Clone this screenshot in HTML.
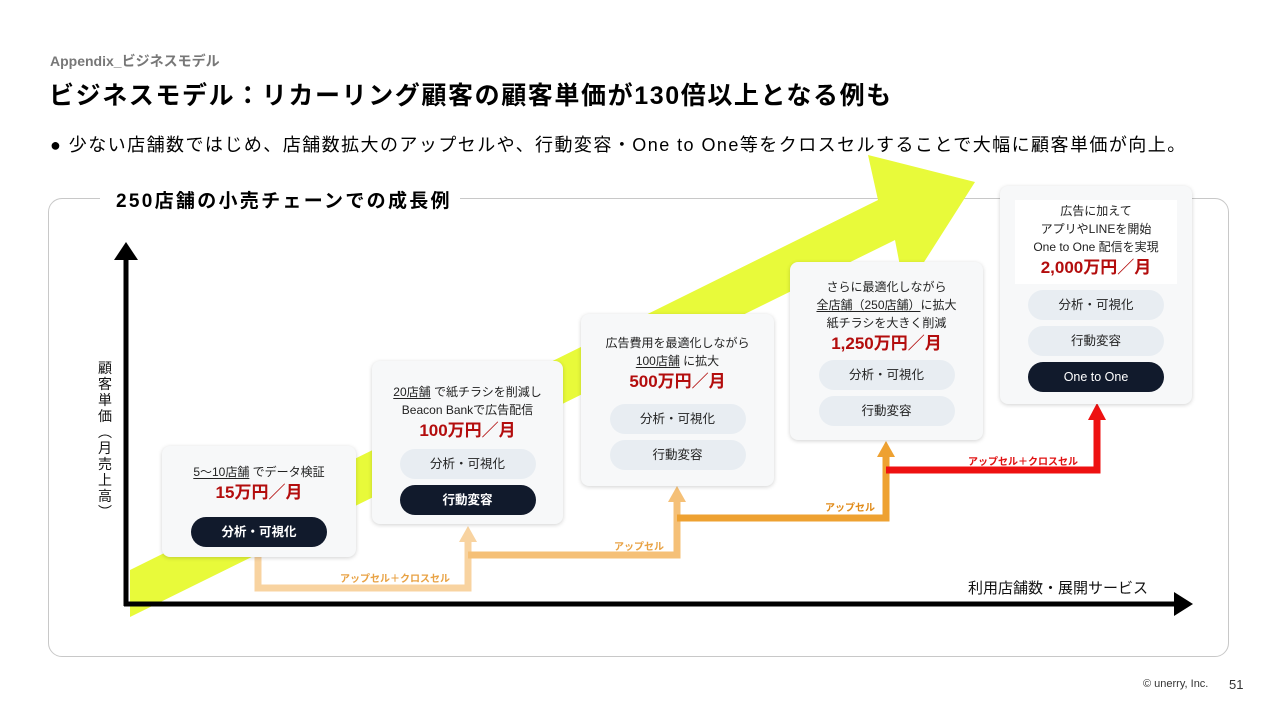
<!DOCTYPE html>
<html><head><meta charset="utf-8"><style>
*{margin:0;padding:0;box-sizing:border-box}
body{width:1280px;height:720px;background:#fff;position:relative;overflow:hidden;font-family:"Liberation Sans","Noto Sans CJK JP",sans-serif;color:#111}
.a{position:absolute;white-space:nowrap}
.card{position:absolute;background:#f7f8f9;border-radius:8px;box-shadow:0 1px 4px rgba(0,0,0,.18);text-align:center;font-size:12px;line-height:18px;color:#222}
.price{color:#b30d0d;font-weight:bold;font-size:17px;line-height:24px}
.pill{width:136px;height:30px;border-radius:15px;margin:6px auto 0;line-height:30px;font-size:12.5px;background:#e8edf2;color:#222}
.dark{background:#111a2c;color:#fff;font-weight:bold}
u{text-decoration:underline;text-underline-offset:2px}
.lbl{position:absolute;font-size:10px;font-weight:bold;white-space:nowrap}
</style></head><body>
<div class="a" style="left:50px;top:51px;font-size:14px;color:#777;font-weight:bold">Appendix_ビジネスモデル</div>
<div class="a" style="left:49px;top:76px;font-size:25px;letter-spacing:1.6px;font-weight:bold;color:#000">ビジネスモデル：リカーリング顧客の顧客単価が130倍以上となる例も</div>
<div class="a" style="left:50px;top:131px;font-size:18px;letter-spacing:1.45px;color:#000">●&nbsp;少ない店舗数ではじめ、店舗数拡大のアップセルや、行動変容・One to One等をクロスセルすることで大幅に顧客単価が向上。</div>
<div class="a" style="left:48px;top:198px;width:1181px;height:459px;border:1.5px solid #c8c8c8;border-radius:14px"></div>
<svg class="a" style="left:0;top:0" width="1280" height="720">
<polygon points="130,570 878,200 868,155 975,182 905,292 895,240 130,617" fill="#e8fa3a"/>
<rect x="100" y="190" width="12" height="20" fill="#fff"/>
<g fill="none" stroke-width="7">
<polyline points="258,557 258,588 468,588 468,540" stroke="#f8d3a0"/>
<polyline points="468,555 677,555 677,500" stroke="#f5c077"/>
<polyline points="677,518 886,518 886,455" stroke="#eea131"/>
<polyline points="886,470 1097,470 1097,418" stroke="#ee1111"/>
</g>
<polygon points="459,542 468,526 477,542" fill="#f8d3a0"/>
<polygon points="668,502 677,486 686,502" fill="#f5c077"/>
<polygon points="877,457 886,441 895,457" fill="#eea131"/>
<polygon points="1088,420 1097,403 1106,420" fill="#ee1111"/>
<line x1="126" y1="258" x2="126" y2="606" stroke="#000" stroke-width="5"/>
<polygon points="114,260 126,242 138,260" fill="#000"/>
<line x1="124" y1="604" x2="1176" y2="604" stroke="#000" stroke-width="5"/>
<polygon points="1174,592 1193,604 1174,616" fill="#000"/>
</svg>
<div class="a" style="left:108px;top:186px;padding:0 8px;background:#fff;font-size:19px;letter-spacing:2.3px;font-weight:bold;color:#000">250店舗の小売チェーンでの成長例</div>
<div class="a" style="left:97px;top:360px;width:16px;font-size:14px;line-height:16px;white-space:normal;text-align:center">顧<br>客<br>単<br>価<br>︵<br>月<br>売<br>上<br>高<br>︶</div>
<div class="a" style="left:968px;top:577px;font-size:15px">利用店舗数・展開サービス</div>
<div class="lbl" style="left:340px;top:570px;color:#e8a244">アップセル＋クロスセル</div>
<div class="lbl" style="left:614px;top:538px;color:#e8a244">アップセル</div>
<div class="lbl" style="left:825px;top:499px;color:#e08a18">アップセル</div>
<div class="lbl" style="left:968px;top:453px;color:#e01010">アップセル＋クロスセル</div>

<div class="card" style="left:162px;top:446px;width:194px;height:111px;padding-top:17px">
<div><u>5〜10店舗</u> でデータ検証</div><div class="price">15万円／月</div><div class="pill dark" style="margin-top:12px">分析・可視化</div></div>

<div class="card" style="left:372px;top:361px;width:191px;height:163px;padding-top:22px">
<div><u>20店舗</u> で紙チラシを削減し</div><div>Beacon Bankで広告配信</div><div class="price">100万円／月</div><div class="pill" style="margin-top:6px">分析・可視化</div><div class="pill dark">行動変容</div></div>

<div class="card" style="left:581px;top:314px;width:193px;height:172px;padding-top:20px">
<div>広告費用を最適化しながら</div><div><u>100店舗</u> に拡大</div><div class="price">500万円／月</div><div class="pill" style="margin-top:10px">分析・可視化</div><div class="pill">行動変容</div></div>

<div class="card" style="left:790px;top:262px;width:193px;height:178px;padding-top:16px">
<div>さらに最適化しながら</div><div><u>全店舗（250店舗）</u>に拡大</div><div>紙チラシを大きく削減</div><div class="price">1,250万円／月</div><div class="pill" style="margin-top:4px">分析・可視化</div><div class="pill">行動変容</div></div>

<div class="card" style="left:1000px;top:186px;width:192px;height:218px;padding-top:14px">
<div style="background:#fff;margin:0 15px;padding:2px 0 4px">
<div>広告に加えて</div><div>アプリやLINEを開始</div><div>One to One 配信を実現</div><div class="price">2,000万円／月</div></div>
<div class="pill" style="margin-top:6px">分析・可視化</div><div class="pill">行動変容</div><div class="pill dark" style="font-weight:normal">One to One</div></div>

<div class="a" style="left:1143px;top:678px;font-size:11px;color:#333">© unerry, Inc.</div>
<div class="a" style="left:1229px;top:677px;font-size:13px;color:#333">51</div>
</body></html>
